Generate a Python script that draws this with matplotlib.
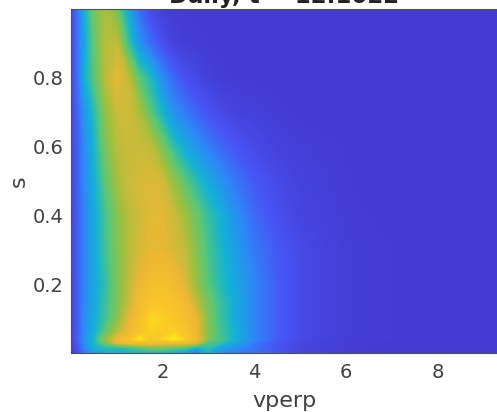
import matplotlib
matplotlib.use('Agg')
import matplotlib.pyplot as plt
from matplotlib.colors import LinearSegmentedColormap

# parula-like colours, tuned against the picture
parula = [(0.26, 0.20, 0.78), (0.2810, 0.3228, 0.9579), (0.1786, 0.5289, 0.9682),
          (0.0689, 0.6948, 0.8394), (0.33, 0.78, 0.48), (0.62, 0.75, 0.25),
          (0.93, 0.72, 0.20), (0.98, 0.78, 0.15), (0.98, 0.95, 0.08)]

vperp = [0, 0.15, 0.3, 0.5, 0.75, 1, 1.25, 1.5, 1.75, 2, 2.25, 2.5, 2.75, 3, 3.25, 3.5, 4, 4.5, 5, 6, 7, 9.3]
s = [0, 0.015, 0.03, 0.04, 0.06, 0.1, 0.15, 0.2, 0.3, 0.4, 0.5, 0.6, 0.7, 0.8, 0.9, 1.0]

values = [
    [.04, .10, .20, .30, .36, .38, .38, .38, .38, .38, .36, .30, .22, .38, .28, .23, .20, .14, .07, .04, .03, .03],
    [.04, .12, .26, .38, .42, .42, .45, .50, .55, .55, .50, .48, .36, .44, .33, .30, .20, .12, .07, .04, .03, .03],
    [.05, .14, .28, .40, .55, .74, .78, .80, .80, .78, .78, .78, .72, .48, .45, .36, .22, .13, .08, .04, .03, .03],
    [.06, .16, .28, .40, .60, .76, .82, .97, .84, .90, .98, .88, .76, .56, .48, .40, .25, .15, .09, .045, .035, .03],
    [.06, .15, .27, .37, .52, .66, .76, .84, .90, .88, .90, .85, .74, .58, .47, .40, .25, .15, .09, .045, .035, .03],
    [.06, .15, .27, .36, .46, .58, .72, .82, .92, .90, .86, .80, .74, .56, .46, .38, .25, .15, .09, .045, .035, .03],
    [.06, .15, .26, .35, .45, .56, .68, .78, .85, .86, .83, .77, .66, .54, .45, .38, .25, .15, .09, .045, .035, .03],
    [.06, .15, .26, .34, .44, .56, .67, .75, .80, .81, .78, .72, .60, .50, .42, .36, .25, .15, .09, .045, .035, .03],
    [.06, .16, .25, .35, .46, .57, .66, .71, .74, .74, .71, .67, .57, .47, .40, .34, .22, .14, .09, .045, .035, .03],
    [.06, .15, .25, .35, .47, .58, .66, .70, .73, .73, .69, .62, .53, .44, .38, .30, .18, .11, .07, .04, .03, .03],
    [.07, .16, .26, .37, .51, .63, .69, .71, .72, .70, .60, .50, .42, .35, .29, .23, .14, .09, .06, .035, .03, .03],
    [.07, .16, .26, .39, .56, .66, .69, .69, .67, .56, .43, .35, .29, .23, .18, .14, .09, .06, .045, .035, .03, .03],
    [.07, .17, .30, .42, .60, .69, .70, .64, .50, .38, .28, .22, .16, .12, .09, .07, .05, .04, .03, .03, .03, .03],
    [.07, .20, .38, .50, .66, .74, .68, .50, .40, .26, .17, .11, .08, .055, .04, .035, .03, .03, .03, .03, .03, .03],
    [.07, .20, .35, .52, .66, .68, .45, .28, .18, .11, .06, .045, .04, .035, .03, .03, .03, .03, .03, .03, .03, .03],
    [.07, .20, .38, .55, .64, .55, .35, .18, .09, .05, .04, .03, .03, .03, .03, .03, .03, .03, .03, .03, .03, .03],
]

cmap = LinearSegmentedColormap.from_list('parula', parula)
levels = [i / 255 for i in range(256)]

fig = plt.figure(figsize=(4.97, 4.12), dpi=100)
ax = fig.add_axes([71 / 497, 59 / 412, 426 / 497, 344 / 412])
ax.contourf(vperp, s, values, levels=levels, cmap=cmap, vmin=0, vmax=1)
ax.set_xlim(0, 9.3)
ax.set_ylim(0, 1)
ax.set_xticks([2, 4, 6, 8])
ax.set_yticks([0.2, 0.4, 0.6, 0.8])
ax.tick_params(length=0, labelsize=14, labelcolor='#404040')
ax.tick_params(axis='x', pad=7)
ax.tick_params(axis='y', pad=5)
ax.set_xlabel('vperp', fontsize=16, color='#404040', labelpad=7)
ax.set_ylabel('s', fontsize=16, color='#404040')
ax.yaxis.set_label_coords(-0.1, 0.5)
for spine in ax.spines.values():
    spine.set_color('#505050')
    spine.set_linewidth(0.8)

# title runs off the top of the picture, only its lower edge shows
fig.text(284 / 497, 1 - 2.5 / 412, 'Daily, t = 12.1022', fontsize=16.5, fontweight='bold',
         ha='center', va='baseline', color='#222222')

fig.savefig('out.png', dpi=100)
